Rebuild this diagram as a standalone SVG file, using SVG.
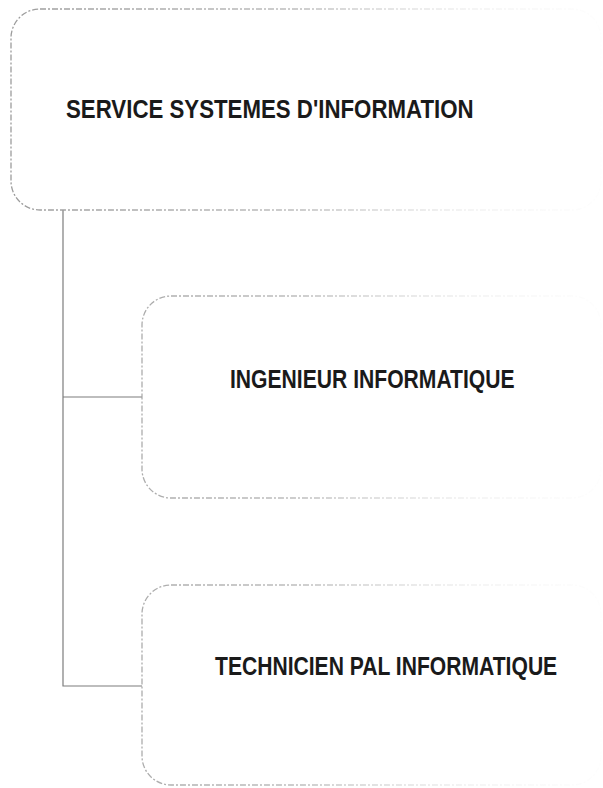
<svg xmlns="http://www.w3.org/2000/svg" width="603" height="788" viewBox="0 0 603 788">
<defs>
<linearGradient id="fade" gradientUnits="userSpaceOnUse" x1="0" y1="0" x2="603" y2="0">
<stop offset="0" stop-color="#9a9a9a" stop-opacity="1"/>
<stop offset="0.5" stop-color="#a8a8a8" stop-opacity="0.75"/>
<stop offset="0.78" stop-color="#c8c8c8" stop-opacity="0.25"/>
<stop offset="1" stop-color="#e0e0e0" stop-opacity="0.05"/>
</linearGradient>
</defs>
<style>
.box{fill:#ffffff;stroke:url(#fade);stroke-width:1.3;stroke-dasharray:6 2 2 2}
.lbl{font-family:"Liberation Sans",Arial,sans-serif;font-weight:bold;font-size:25px;fill:#1a1a1a}
.conn{fill:none;stroke:#7d7d7d;stroke-width:1.2}
</style>
<rect width="603" height="788" fill="#ffffff"/>
<g id="connectors">
<path class="conn" d="M63,210 V686 H142"/>
<path class="conn" d="M63,397 H142"/>
</g>
<g id="node-service">
<rect class="box" x="11" y="9" width="590" height="201" rx="29" ry="29"/>
<text class="lbl" transform="translate(66,118) scale(0.891,1)" x="0" y="0">SERVICE SYSTEMES D'INFORMATION</text>
</g>
<g id="node-ingenieur">
<rect class="box" x="142" y="296" width="459" height="202" rx="29" ry="29"/>
<text class="lbl" transform="translate(230,388) scale(0.845,1)" x="0" y="0">INGENIEUR INFORMATIQUE</text>
</g>
<g id="node-technicien">
<rect class="box" x="142" y="585" width="459" height="200" rx="29" ry="29"/>
<text class="lbl" transform="translate(215,675) scale(0.844,1)" x="0" y="0">TECHNICIEN PAL INFORMATIQUE</text>
</g>
</svg>
